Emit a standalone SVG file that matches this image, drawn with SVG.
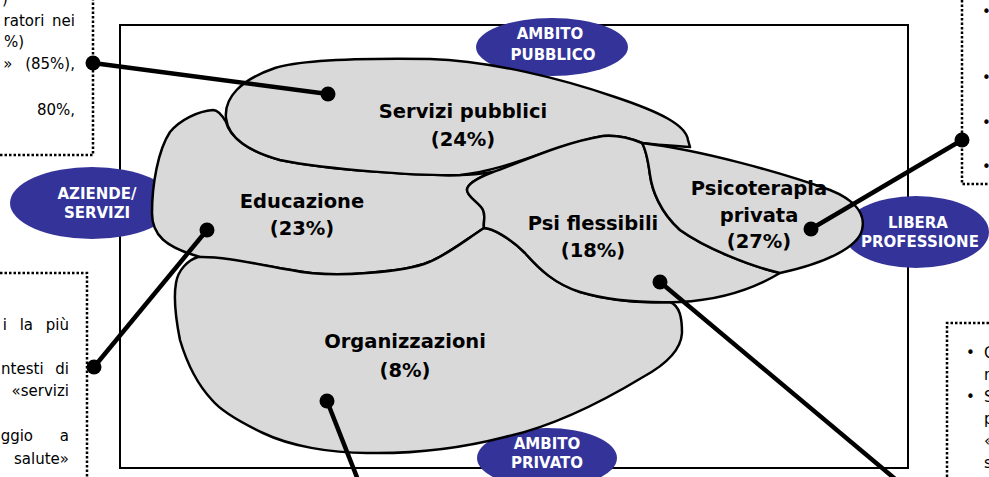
<svg xmlns="http://www.w3.org/2000/svg" width="989" height="477" viewBox="0 0 989 477">
<style>
.frame{fill:none;stroke:#000;stroke-width:2}
.dot-box{fill:none;stroke:#000;stroke-width:2.5;stroke-dasharray:2.5 2}
.amb{fill:#333399;stroke:none}
.amb-t{font-family:"DejaVu Sans",Verdana,sans-serif;font-weight:bold;font-size:15px;fill:#fff;text-anchor:middle}
.blob{fill:#d9d9d9;stroke:#000;stroke-width:2.5;stroke-linejoin:round}
.lbl{font-family:"DejaVu Sans",Verdana,sans-serif;font-weight:bold;font-size:19.5px;fill:#000;text-anchor:middle}
.box-t{font-family:"DejaVu Sans",Verdana,sans-serif;font-size:15px;fill:#000}
.end{text-anchor:end}
.conn line{stroke:#000;stroke-width:4.5}
.conn circle{fill:#000}
</style>

<g id="frame">
<rect class="frame" x="120" y="25" width="788" height="443"/>
</g>

<g id="box-top-left">
<path class="dot-box" d="M0,155 H93 V0"/>
<text class="box-t" x="2" y="4">)</text>
<text class="box-t end" x="75" y="26" word-spacing="3">ratori nei</text>
<text class="box-t end" x="24" y="47">%)</text>
<text class="box-t end" x="75" y="69" word-spacing="8">» (85%),</text>
<text class="box-t end" x="75" y="115">80%,</text>
</g>

<g id="box-left">
<path class="dot-box" d="M0,273 H87 V477"/>
<text class="box-t end" x="69" y="330" word-spacing="8">i la più</text>
<text class="box-t end" x="69" y="374" word-spacing="7">ntesti di</text>
<text class="box-t end" x="69" y="396">«servizi</text>
<text class="box-t end" x="69" y="441" word-spacing="22">ggio a</text>
<text class="box-t end" x="69" y="464">salute»</text>
</g>

<g id="box-top-right">
<path class="dot-box" d="M962,0 V184 H989"/>
<text class="box-t" x="982" y="17">•</text>
<text class="box-t" x="982" y="83">•</text>
<text class="box-t" x="982" y="128">•</text>
<text class="box-t" x="982" y="172">•</text>
</g>

<g id="box-bottom-right">
<path class="dot-box" d="M989,323 H947 V477"/>
<text class="box-t" x="966" y="358">•<tspan x="984">C</tspan></text>
<text class="box-t" x="984" y="380">n</text>
<text class="box-t" x="966" y="402">•<tspan x="984">S</tspan></text>
<text class="box-t" x="984" y="424">p</text>
<text class="box-t" x="984" y="446">«</text>
<text class="box-t" x="984" y="468">s</text>
</g>

<g id="ambito-pubblico">
<ellipse class="amb" cx="552" cy="47" rx="76" ry="29"/>
<text class="amb-t" x="550" y="39">AMBITO</text>
<text class="amb-t" x="553" y="60">PUBBLICO</text>
</g>

<g id="aziende-servizi">
<ellipse class="amb" cx="92" cy="203" rx="82" ry="36"/>
<text class="amb-t" x="97" y="199">AZIENDE/</text>
<text class="amb-t" x="97" y="218">SERVIZI</text>
</g>

<g id="libera-professione">
<ellipse class="amb" cx="916" cy="232" rx="73" ry="36"/>
<text class="amb-t" x="918" y="228">LIBERA</text>
<text class="amb-t" x="920" y="247">PROFESSIONE</text>
</g>

<g id="ambito-privato">
<ellipse class="amb" cx="547" cy="458" rx="70" ry="30"/>
<text class="amb-t" x="547" y="449">AMBITO</text>
<text class="amb-t" x="547" y="468">PRIVATO</text>
</g>

<g id="educazione">
<path class="blob" d="M213,110 C198,111 180,120 170,132 C158,150 152,185 152,213 C152,235 165,247 200,257 C225,258 260,265 291,270 C310,274 330,276 367,273 C395,271 415,268 429,262 C445,256 460,244 484,228 C483,222 486,216 483,210 C480,203 467,197 467,190 C467,184 480,177 493,172 C480,174 470,175 460,175 C420,176 330,170 280,160 C250,152 230,138 226,122 C222,115 218,110 213,110 Z"/>
<text class="lbl" x="302" y="208">Educazione</text>
<text class="lbl" x="302" y="235">(23%)</text>
</g>

<g id="organizzazioni">
<path class="blob" d="M198,257 C225,256 260,265 291,270 C310,274 330,276 367,273 C395,271 415,268 429,262 C445,256 460,244 484,228 C492,228 510,238 525,253 C540,270 555,284 580,292 C610,301 645,303 670,302 C680,306 682,318 682,333 C681,350 665,365 643,377 C610,397 560,425 505,437 C470,446 420,454 367,453 C330,453 290,446 263,433 C240,422 222,412 212,400 C198,385 188,367 180,340 C176,320 173,300 176,283 C178,270 188,260 198,257 Z"/>
<text class="lbl" x="405" y="348">Organizzazioni</text>
<text class="lbl" x="405" y="377">(8%)</text>
</g>

<g id="servizi-pubblici">
<path class="blob" d="M226,118 C224,98 240,80 275,68 C300,60 360,58 430,59 C490,61 560,78 615,97 C660,112 686,125 688,140 L690,147 C670,145 655,145 642,143 C630,138 615,135 603,136 C560,143 510,170 460,175 C420,176 330,170 280,160 C250,152 228,138 226,118 Z"/>
<text class="lbl" x="463" y="118">Servizi pubblici</text>
<text class="lbl" x="463" y="146">(24%)</text>
</g>

<g id="psi-flessibili">
<path class="blob" d="M493,172 C520,163 560,143 603,136 C615,135 630,138 642,143 C646,150 648,160 650,175 C652,190 660,212 680,230 C705,248 750,266 780,273 C755,288 720,300 680,302 C650,303 610,301 580,292 C555,284 540,270 525,253 C510,238 492,228 484,228 C483,222 486,216 483,210 C480,203 467,197 467,190 C467,184 480,177 493,172 Z"/>
<text class="lbl" x="593" y="230">Psi flessibili</text>
<text class="lbl" x="593" y="257">(18%)</text>
</g>

<g id="psicoterapia-privata">
<path class="blob" d="M642,143 C700,150 780,172 830,190 C855,200 866,214 862,230 C858,246 830,262 780,273 C750,266 705,248 680,230 C660,212 652,190 650,175 C648,160 646,150 642,143 Z"/>
<text class="lbl" x="759" y="195">Psicoterapia</text>
<text class="lbl" x="759" y="222">privata</text>
<text class="lbl" x="759" y="248">(27%)</text>
</g>

<g id="connectors" class="conn">
<line x1="93" y1="63" x2="328" y2="94"/>
<circle cx="93" cy="63" r="7.5"/>
<circle cx="328" cy="94" r="7.5"/>
<line x1="207" y1="230" x2="94" y2="367"/>
<circle cx="207" cy="230" r="7.5"/>
<circle cx="94" cy="367" r="7.5"/>
<line x1="327" y1="401" x2="360" y2="485"/>
<circle cx="327" cy="401" r="7.5"/>
<line x1="660" y1="282" x2="900" y2="483"/>
<circle cx="660" cy="282" r="7.5"/>
<line x1="811" y1="229" x2="962" y2="140"/>
<circle cx="811" cy="229" r="7.5"/>
<circle cx="962" cy="140" r="7.5"/>
</g>
</svg>
